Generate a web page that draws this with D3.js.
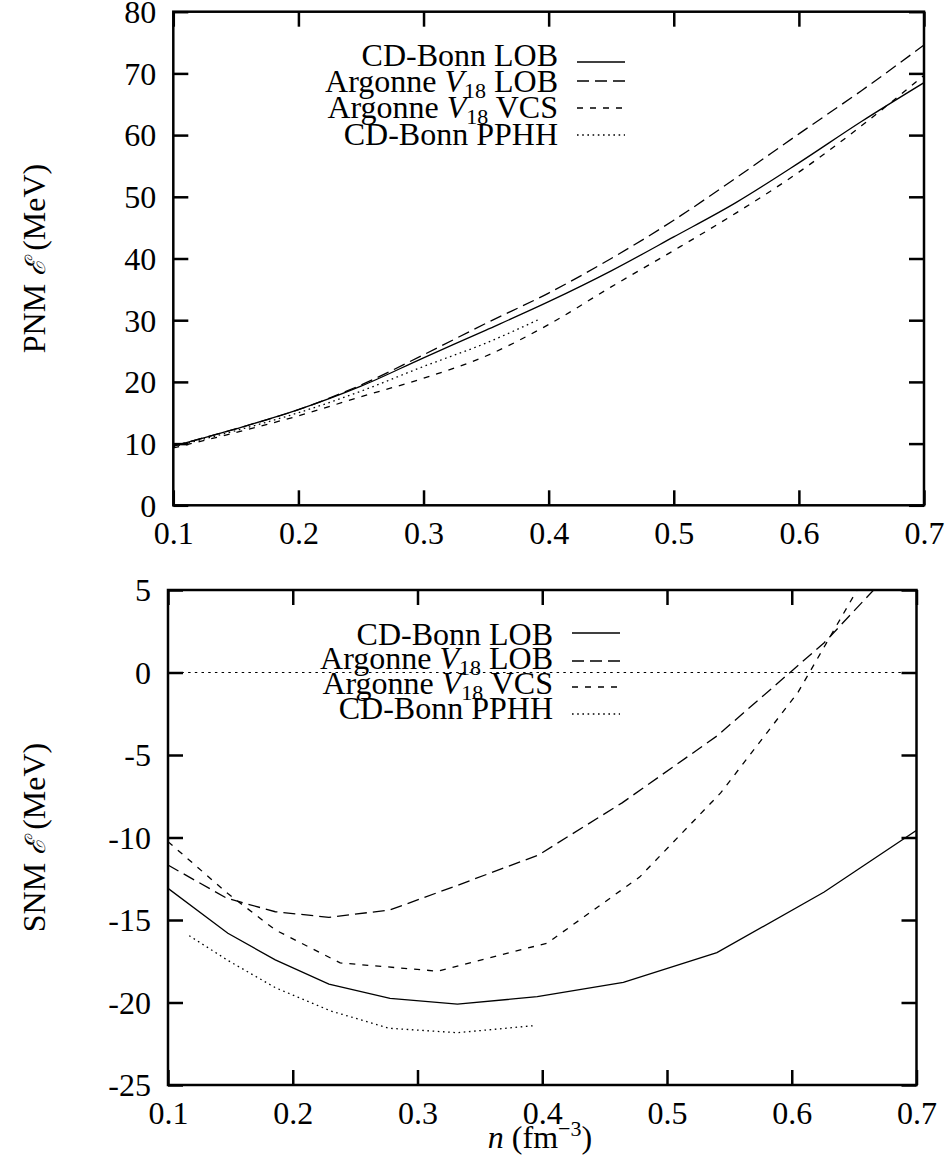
<!DOCTYPE html>
<html><head><meta charset="utf-8">
<script src="https://cdn.jsdelivr.net/npm/d3@7"></script>
<style>
html,body{margin:0;padding:0;background:#fff;}
svg text{font-family:"Liberation Serif","DejaVu Serif",serif;fill:#000;}
</style></head>
<body><svg id="chart" width="947" height="1164"></svg>
<script>
// ---------- data ----------
const xTicks = [0.1, 0.2, 0.3, 0.4, 0.5, 0.6, 0.7];
const pnmTicks = [0, 10, 20, 30, 40, 50, 60, 70, 80];
const snmTicks = [-25, -20, -15, -10, -5, 0, 5];

// PNM (top panel), smooth curves
const pnmN = [0.1, 0.15, 0.2, 0.25, 0.3, 0.35, 0.4, 0.45, 0.5, 0.55, 0.6, 0.65, 0.7];
const pnmCdLOB = [9.6, 12.4, 15.5, 19.3, 23.9, 28.4, 33.0, 38.0, 43.5, 49.1, 55.5, 62.2, 68.5];
const pnmAvLOB = [9.6, 12.4, 15.5, 19.5, 24.4, 29.5, 34.4, 40.0, 46.2, 53.1, 60.2, 67.2, 74.6];
const pnmAvVCS = [9.3, 11.8, 14.5, 17.6, 20.6, 24.2, 29.3, 35.4, 41.3, 47.4, 54.0, 61.5, 69.7];
const pnmPphhN = [0.1, 0.15, 0.2, 0.25, 0.3, 0.35, 0.393];
const pnmCdPPHH = [9.5, 12.1, 15.0, 18.5, 22.5, 26.3, 30.2];

// SNM (bottom panel), piecewise linear
const snmCdLOBN = [0.1, 0.148, 0.186, 0.229, 0.278, 0.332, 0.396, 0.465, 0.540, 0.626, 0.719];
const snmCdLOB  = [-13.08, -15.8, -17.42, -18.88, -19.75, -20.1, -19.65, -18.78, -16.98, -13.3, -8.6];
const snmAvLOBN = [0.1, 0.147, 0.186, 0.229, 0.278, 0.332, 0.397, 0.464, 0.540, 0.626, 0.719];
const snmAvLOB  = [-11.67, -13.68, -14.5, -14.84, -14.39, -12.9, -11.06, -7.9, -3.85, 1.8, 9.3];
const snmAvVCSN = [0.1, 0.148, 0.186, 0.238, 0.316, 0.404, 0.478, 0.543, 0.605, 0.66];
const snmAvVCS  = [-10.25, -13.4, -15.6, -17.6, -18.1, -16.4, -12.4, -7.3, -1.2, 6.0];
const snmCdPPHHN = [0.117, 0.148, 0.186, 0.230, 0.277, 0.332, 0.394];
const snmCdPPHH  = [-15.95, -17.45, -19.1, -20.5, -21.56, -21.83, -21.4];

const seriesNames = ["CD-Bonn LOB", "Argonne V18 LOB", "Argonne V18 VCS", "CD-Bonn PPHH"];

// ---------- drawing ----------
const svg = d3.select("#chart");
const dashes = ["none", "12,6", "6,7", "1.6,3.6"];
const FS = 32;

function zip(xs, ys){ return xs.map((x,i)=>[x, ys[i]]); }

function panel(cfg){
  const g = svg.append("g");
  const x = d3.scaleLinear().domain([0.1,0.7]).range([cfg.x0, cfg.x1]);
  const y = d3.scaleLinear().domain(cfg.ydom).range([cfg.y0, cfg.y1]);
  const id = "clip"+cfg.id;
  svg.append("clipPath").attr("id", id).append("rect")
    .attr("x", cfg.x0).attr("y", cfg.y1).attr("width", cfg.x1-cfg.x0).attr("height", cfg.y0-cfg.y1);

  const TL = 15;
  const axB = g.append("g").attr("transform",`translate(0,${cfg.y0})`)
    .call(d3.axisBottom(x).tickValues(xTicks).tickSize(-TL).tickPadding(16).tickFormat(d3.format(".1f")));
  const axT = g.append("g").attr("transform",`translate(0,${cfg.y1})`)
    .call(d3.axisTop(x).tickValues(xTicks).tickSize(-TL).tickFormat(""));
  const axL = g.append("g").attr("transform",`translate(${cfg.x0},0)`)
    .call(d3.axisLeft(y).tickValues(cfg.yticks).tickSize(-TL).tickPadding(17).tickFormat(d=>String(d)));
  const axR = g.append("g").attr("transform",`translate(${cfg.x1},0)`)
    .call(d3.axisRight(y).tickValues(cfg.yticks).tickSize(-TL).tickFormat(""));
  [axB,axT,axL,axR].forEach(a=>{
    a.select(".domain").remove();
    a.selectAll(".tick line").attr("stroke","#000").attr("stroke-width",2.5);
    a.selectAll("text").style("font-size",FS+"px").style("font-family",'"Liberation Serif",serif');
  });
  axL.selectAll("text").attr("dy","0.34em");

  const plot = g.append("g").attr("clip-path",`url(#${id})`);
  if (cfg.zero){
    plot.append("line").attr("x1",cfg.x0).attr("x2",cfg.x1)
      .attr("y1",y(0)).attr("y2",y(0))
      .attr("stroke","#000").attr("stroke-width",1.1).attr("stroke-dasharray","2.5,4.2");
  }
  const line = d3.line().x(d=>x(d[0])).y(d=>y(d[1])).curve(cfg.curve);
  cfg.series.forEach((s,i)=>{
    plot.append("path").attr("d", line(s)).attr("fill","none")
      .attr("stroke","#000").attr("stroke-width",1.3)
      .attr("stroke-dasharray", dashes[i]);
  });

  g.append("rect").attr("x",cfg.x0).attr("y",cfg.y1)
    .attr("width",cfg.x1-cfg.x0).attr("height",cfg.y0-cfg.y1)
    .attr("fill","none").attr("stroke","#000").attr("stroke-width",2.5);

  // legend
  seriesNames.forEach((name,i)=>{
    const t = g.append("text").attr("x", cfg.legX).attr("y", cfg.legBase[i])
      .attr("text-anchor","end").style("font-size",FS+"px");
    const m = name.match(/^(.*)V18(.*)$/);
    if (m){
      t.append("tspan").text(m[1]);
      t.append("tspan").attr("font-style","italic").text("V");
      t.append("tspan").attr("font-size","22px").attr("dy","6").text("18");
      t.append("tspan").attr("dy","-6").text(m[2]);
    } else t.text(name);
    g.append("line").attr("x1",cfg.legL0).attr("x2",cfg.legL1)
      .attr("y1",cfg.legLine[i]).attr("y2",cfg.legLine[i])
      .attr("stroke","#000").attr("stroke-width",1.3).attr("stroke-dasharray",dashes[i]);
  });

  // y title
  const yt = g.append("text")
    .attr("transform",`translate(45,${(cfg.y0+cfg.y1)/2}) rotate(-90)`)
    .attr("text-anchor","middle").style("font-size",FS+"px");
  yt.append("tspan").text(cfg.ytitle+" ");
  yt.append("tspan").attr("font-style","italic").style("font-family",'"DejaVu Serif",serif').attr("font-size","28px").text("\u2130");
  yt.append("tspan").text(" (MeV)");
  return {x,y,g};
}

panel({
  id:"top", x0:173.3, x1:924, y0:505.3, y1:11.7, ydom:[0,80], yticks:pnmTicks,
  curve: d3.curveMonotoneX, zero:false, ytitle:"PNM",
  series:[zip(pnmN,pnmCdLOB), zip(pnmN,pnmAvLOB), zip(pnmN,pnmAvVCS), zip(pnmPphhN,pnmCdPPHH)],
  legX:558, legBase:[66,92,118,145], legL0:577, legL1:625, legLine:[62,81,108,135]
});

panel({
  id:"bot", x0:168, x1:916.5, y0:1085, y1:590, ydom:[-25,5], yticks:snmTicks,
  curve: d3.curveLinear, zero:true, ytitle:"SNM",
  series:[zip(snmCdLOBN,snmCdLOB), zip(snmAvLOBN,snmAvLOB), zip(snmAvVCSN,snmAvVCS), zip(snmCdPPHHN,snmCdPPHH)],
  legX:553, legBase:[645,669,694,719], legL0:572, legL1:620, legLine:[633,661,687,714]
});

// x title
const xt = svg.append("text").attr("x",540).attr("y",1148).attr("text-anchor","middle").style("font-size",FS+"px");
xt.append("tspan").attr("font-style","italic").text("n");
xt.append("tspan").text(" (fm");
xt.append("tspan").attr("font-size","22px").attr("dy","-12").text("\u22123");
xt.append("tspan").attr("dy","12").text(")");
</script>
</body></html>
